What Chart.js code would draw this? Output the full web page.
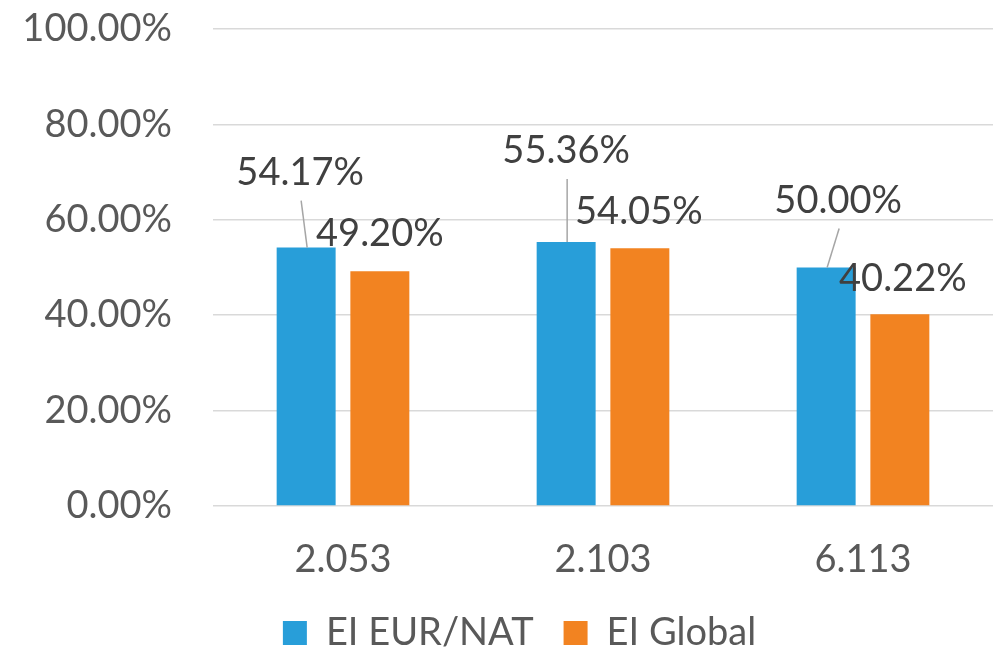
<!DOCTYPE html>
<html>
<head>
<meta charset="utf-8">
<script src="https://cdn.jsdelivr.net/npm/chart.js@4/dist/chart.umd.min.js"></script>
<style>
  html, body { margin: 0; padding: 0; background: #fff; }
  #wrap { width: 995px; height: 650px; }
</style>
</head>
<body>
<div id="wrap"><canvas id="chart"></canvas></div>
<script>
// categories and series values (percent)
const categories = ['2.053', '2.103', '6.113'];
const seriesNames = ['EI EUR/NAT', 'EI Global'];
const eurNat = [54.17, 55.36, 50.00];
const global = [49.20, 54.05, 40.22];
const yTicks = [0, 20, 40, 60, 80, 100];

const FONT = 'Lato, "Open Sans", sans-serif';
const FS = 38;

// label placement relative to bar top (Excel moved some of them by hand)
const labelOffsets = [
    [[-6, -75], [0, -91], [12, -67]],
    [[0, -38], [-1, -36], [3, -35]]
];

// simple data-label plugin with leader lines
const barLabels = {
    id: 'barLabels',
    afterLayout(chart) {
        // Excel centres the legend a bit right of the canvas middle
        if (chart.legend) {
            chart.legend.left += 23;
            chart.legend.right += 23;
        }
    },
    afterDatasetsDraw(chart) {
        const ctx = chart.ctx;
        ctx.save();
        ctx.font = FS + 'px ' + FONT;
        ctx.textAlign = 'center';
        ctx.textBaseline = 'middle';
        chart.data.datasets.forEach((ds, di) => {
            const meta = chart.getDatasetMeta(di);
            meta.data.forEach((bar, i) => {
                const [dx, dy] = labelOffsets[di][i];
                const lx = bar.x + dx;
                const ly = bar.y + dy;
                if (dy < -50) {
                    ctx.strokeStyle = '#a6a6a6';
                    ctx.lineWidth = 1.5;
                    ctx.beginPath();
                    ctx.moveTo(lx + 1, ly + 28);
                    ctx.lineTo(bar.x + 1, bar.y);
                    ctx.stroke();
                }
                ctx.fillStyle = '#404040';
                ctx.fillText(ds.data[i].toFixed(2) + '%', lx, ly);
            });
        });
        ctx.restore();
    }
};

new Chart(document.getElementById('chart'), {
    type: 'bar',
    data: {
        labels: categories,
        datasets: [
            {
                label: seriesNames[0],
                data: eurNat,
                backgroundColor: '#289ED9',
                borderWidth: 0,
                categoryPercentage: 0.567,
                barPercentage: 0.8
            },
            {
                label: seriesNames[1],
                data: global,
                backgroundColor: '#F28321',
                borderWidth: 0,
                categoryPercentage: 0.567,
                barPercentage: 0.8
            }
        ]
    },
    options: {
        responsive: true,
        maintainAspectRatio: false,
        animation: false,
        devicePixelRatio: 1,
        layout: { padding: { top: 29, right: 2, left: 0, bottom: -12 } },
        scales: {
            x: {
                afterFit: (axis) => { axis.height = 78; },
                grid: { display: false, drawTicks: false },
                border: { display: false },
                ticks: {
                    color: '#595959',
                    font: { family: FONT, size: FS },
                    padding: 31
                }
            },
            y: {
                min: 0,
                max: 100,
                afterFit: (axis) => {
                    axis.width = 213;
                    axis.paddingTop = 0;
                    axis.paddingBottom = 0;
                },
                afterBuildTicks: (axis) => { axis.ticks = yTicks.map(v => ({ value: v })); },
                grid: { color: '#d9d9d9', lineWidth: 1.5, drawTicks: false },
                border: { display: false },
                ticks: {
                    color: '#595959',
                    font: { family: FONT, size: FS },
                    padding: 41,
                    callback: v => v.toFixed(2) + '%'
                }
            }
        },
        plugins: {
            legend: {
                position: 'bottom',
                labels: {
                    color: '#595959',
                    font: { family: FONT, size: FS },
                    boxWidth: 24,
                    boxHeight: 24,
                    padding: 30
                }
            },
            tooltip: { enabled: false }
        }
    },
    plugins: [barLabels]
});
</script>
</body>
</html>
